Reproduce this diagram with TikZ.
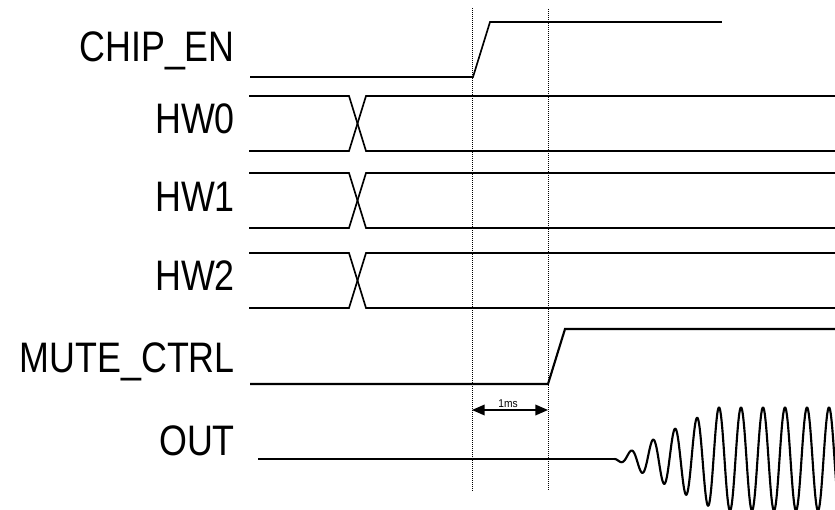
\documentclass[tikz,border=0pt]{standalone}
\usepackage{fontspec}
\setmainfont{Liberation Sans}
\usetikzlibrary{arrows.meta}
\begin{document}
\begin{tikzpicture}[x=0.75pt,y=-0.75pt,
  siglabel/.style={anchor=base east, inner sep=0pt, xscale=0.84, font=\fontsize{32}{32}\selectfont},
  wave/.style={line width=1.25pt, line join=miter},
  wavethick/.style={line width=1.8pt},
  guide/.style={line width=0.6pt, dash pattern=on 0.75pt off 0.75pt},
  dimline/.style={line width=1.1pt, {Triangle[length=9.5pt,width=8pt]}-{Triangle[length=9.5pt,width=8pt]}}]
\useasboundingbox (0,0) rectangle (835,510);

% labels
\node[siglabel] (lchip) at (235,62) {CHIP\_EN};
\node[siglabel] (lhw0) at (235,133) {HW0};
\node[siglabel] (lhw1) at (235,211) {HW1};
\node[siglabel] (lhw2) at (235,290) {HW2};
\node[siglabel] (lmute) at (235,372) {MUTE\_CTRL};
\node[siglabel] (lout) at (235,455) {OUT};

% guides
\coordinate (g1t) at (472,8);
\coordinate (g1b) at (472,492);
\coordinate (g2t) at (548,9);
\coordinate (g2b) at (548,490);
\draw[guide] (g1t) -- (g1b);
\draw[guide] (g2t) -- (g2b);

% CHIP_EN
\draw[wave] (250,77) -- (473,77) -- (490,22) -- (523,22);
\draw[wavethick] (523,22) -- (722,22);

% HW buses
\foreach \t/\b in {96/151, 173/228, 253/308}{
  \draw[wave] (249,\t) -- (349,\t) -- (366,\b) -- (487,\b);
  \draw[wave] (249,\b) -- (349,\b) -- (366,\t) -- (487,\t);
  \draw[wavethick] (487,\t) -- (835,\t);
  \draw[wavethick] (487,\b) -- (835,\b);
}

% MUTE_CTRL
\draw[line width=1.6pt] (250,384) -- (548,384) -- (565,329) -- (835,329);

% 1ms dimension
\coordinate (d1) at (472,410);
\coordinate (d2) at (548,410);
\draw[dimline] (d1) -- (d2);
\node[inner sep=0pt, anchor=base, font=\fontsize{8.5}{8.5}\selectfont, xscale=0.9] (ms) at (508,407) {1ms};

% OUT
\begin{scope}
\clip (240,380) rectangle (835,512);
\draw[line width=1.6pt] (258,459) -- (614.5,459);
\draw[line width=1.6pt, line join=round] plot[domain=0:222, samples=600]
  ({614.5+\x}, {459 + min(51.5, 0.5*\x)*sin(16.363636*\x)});
\end{scope}
\end{tikzpicture}
\end{document}
